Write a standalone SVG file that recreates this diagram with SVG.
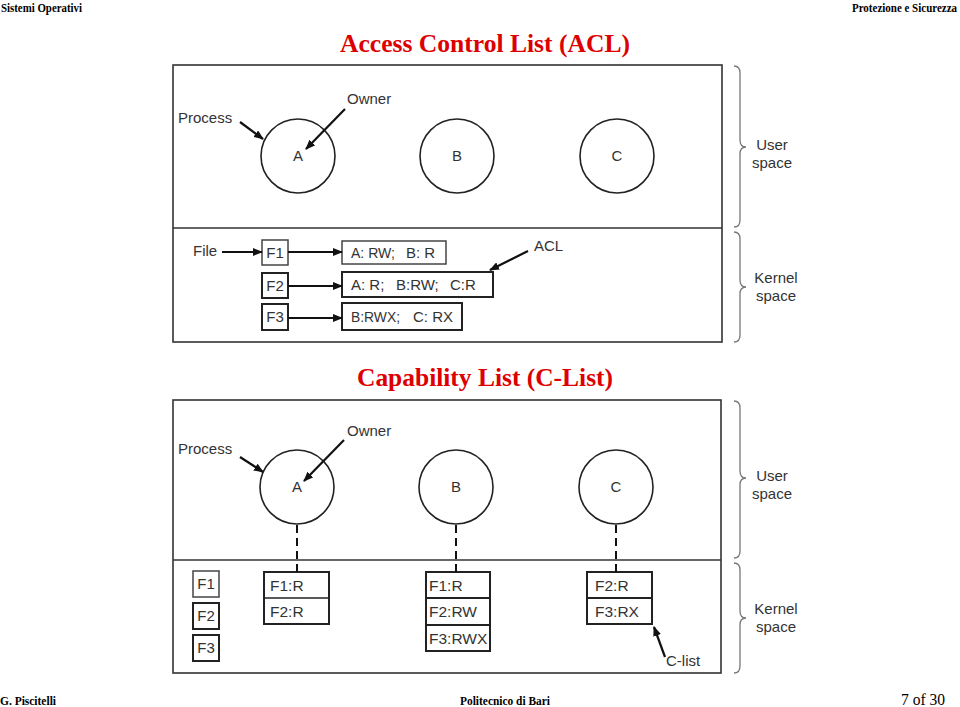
<svg xmlns="http://www.w3.org/2000/svg" width="960" height="707" viewBox="0 0 960 707">
<style>
.hdr{font-family:"Liberation Serif","Times New Roman",serif;font-weight:bold;font-size:12px;fill:#000}
.ttl{font-family:"Liberation Serif","Times New Roman",serif;font-weight:bold;font-size:26px;fill:#dd0000}
.frame{fill:none;stroke:#333;stroke-width:1.6}
.circ{fill:none;stroke:#222;stroke-width:1.6}
.lbl{font-family:"Liberation Sans",Arial,sans-serif;font-size:15px;fill:#333}
.bt{font-family:"Liberation Sans",Arial,sans-serif;font-size:15.5px;fill:#333}
.cl{font-family:"Liberation Sans",Arial,sans-serif;font-size:15px;fill:#333;text-anchor:middle}
.box{fill:#fff;stroke:#222;stroke-width:2}
.thin{fill:#fff;stroke:#444;stroke-width:1.5}
.arr{stroke:#111;stroke-width:2.2;fill:none;marker-end:url(#ah)}
.dash{stroke:#111;stroke-width:2;stroke-dasharray:8 5;fill:none}
.brace{fill:none;stroke:#777;stroke-width:1.3}
</style>
<defs>
<marker id="ah" markerWidth="10" markerHeight="8" refX="9" refY="4" orient="auto" markerUnits="userSpaceOnUse">
<path d="M0,0 L10,4 L0,8 z" fill="#111"/>
</marker>
</defs>
<rect width="960" height="707" fill="#fff"/>

<g id="header">
<text class="hdr" x="1" y="12" textLength="81" lengthAdjust="spacingAndGlyphs">Sistemi Operativi</text>
<text class="hdr" x="957" y="12" text-anchor="end" textLength="105" lengthAdjust="spacingAndGlyphs">Protezione e Sicurezza</text>
</g>
<g id="footer">
<text class="hdr" x="0" y="705" textLength="56" lengthAdjust="spacingAndGlyphs">G. Piscitelli</text>
<text class="hdr" x="460" y="705" textLength="90" lengthAdjust="spacingAndGlyphs">Politecnico di Bari</text>
<text x="945" y="705" text-anchor="end" font-family="'Liberation Serif','Times New Roman',serif" font-size="16" fill="#000" textLength="44" lengthAdjust="spacingAndGlyphs">7 of 30</text>
</g>

<!-- ACL diagram -->
<text class="ttl" x="340" y="52" textLength="290" lengthAdjust="spacingAndGlyphs">Access Control List (ACL)</text>
<g id="acl-frame">
<rect class="frame" x="173" y="65" width="549" height="277"/>
<line class="frame" x1="173" y1="228" x2="722" y2="228"/>
</g>
<g id="acl-A"><circle class="circ" cx="298" cy="156" r="37"/><text class="cl" x="298" y="161">A</text></g>
<g id="acl-B"><circle class="circ" cx="457" cy="156" r="37"/><text class="cl" x="457" y="161">B</text></g>
<g id="acl-C"><circle class="circ" cx="617" cy="156" r="37"/><text class="cl" x="617" y="161">C</text></g>
<g id="acl-labels">
<text class="lbl" x="178" y="123">Process</text>
<text class="lbl" x="347" y="104">Owner</text>
<text class="lbl" x="193" y="256">File</text>
<text class="lbl" x="534" y="251">ACL</text>
</g>
<g id="acl-F1"><rect class="thin" x="262" y="240" width="26" height="25"/><text class="cl" x="275" y="258">F1</text></g>
<g id="acl-F2"><rect class="box" x="262" y="273" width="26" height="25"/><text class="cl" x="275" y="291">F2</text></g>
<g id="acl-F3"><rect class="box" x="262" y="304" width="26" height="26"/><text class="cl" x="275" y="322">F3</text></g>
<g id="acl-list1"><rect class="thin" x="342" y="241" width="104" height="23"/><text class="lbl" y="258"><tspan x="351" textLength="44" lengthAdjust="spacingAndGlyphs">A: RW;</tspan><tspan x="406">B: R</tspan></text></g>
<g id="acl-list2"><rect class="box" x="342" y="272" width="151" height="25"/><text class="lbl" y="290"><tspan x="351">A: R;</tspan><tspan x="396">B:RW;</tspan><tspan x="450">C:R</tspan></text></g>
<g id="acl-list3"><rect class="box" x="342" y="303" width="120" height="27"/><text class="lbl" y="322"><tspan x="351" textLength="49" lengthAdjust="spacingAndGlyphs">B:RWX;</tspan><tspan x="413">C: RX</tspan></text></g>
<g id="acl-braces">
<path class="brace" d="M734,66 Q740,66 740,73 L740,140 Q740,147 746,147 Q740,147 740,154 L740,220 Q740,227 734,227"/>
<path class="brace" d="M734,232 Q740,232 740,239 L740,280 Q740,287 746,287 Q740,287 740,294 L740,335 Q740,342 734,342"/>
<text class="cl" x="772" y="150">User</text>
<text class="cl" x="772" y="168">space</text>
<text class="cl" x="776" y="283">Kernel</text>
<text class="cl" x="776" y="301">space</text>
</g>
<g id="acl-connectors">
<line class="arr" x1="240" y1="122" x2="263" y2="139"/>
<line class="arr" x1="345" y1="109" x2="306" y2="149"/>
<line class="arr" x1="222" y1="252" x2="262" y2="252"/>
<line class="arr" x1="288" y1="252" x2="342" y2="252"/>
<line class="arr" x1="288" y1="286" x2="342" y2="286"/>
<line class="arr" x1="288" y1="318" x2="342" y2="318"/>
<line class="arr" x1="528" y1="251" x2="490" y2="270"/>
</g>

<!-- C-List diagram -->
<text class="ttl" x="357" y="386" textLength="256" lengthAdjust="spacingAndGlyphs">Capability List (C-List)</text>
<g id="cl-frame">
<rect class="frame" x="173" y="400" width="548" height="273"/>
<line class="frame" x1="173" y1="560" x2="721" y2="560"/>
</g>
<g id="cl-A"><circle class="circ" cx="297" cy="487" r="37"/><text class="cl" x="297" y="492">A</text></g>
<g id="cl-B"><circle class="circ" cx="456" cy="487" r="37"/><text class="cl" x="456" y="492">B</text></g>
<g id="cl-C"><circle class="circ" cx="616" cy="487" r="37"/><text class="cl" x="616" y="492">C</text></g>
<g id="cl-labels">
<text class="lbl" x="178" y="454">Process</text>
<text class="lbl" x="347" y="436">Owner</text>
<text class="lbl" x="666" y="666">C-list</text>
</g>
<g id="cl-F1"><rect class="thin" x="193" y="571" width="26" height="26"/><text class="cl" x="206" y="589">F1</text></g>
<g id="cl-F2"><rect class="box" x="193" y="603" width="26" height="26"/><text class="cl" x="206" y="621">F2</text></g>
<g id="cl-F3"><rect class="box" x="193" y="635" width="26" height="26"/><text class="cl" x="206" y="653">F3</text></g>
<g id="clist-A">
<rect class="box" x="264" y="572" width="65" height="52"/>
<line stroke="#222" stroke-width="1.5" x1="264" y1="598" x2="329" y2="598"/>
<text class="bt" x="270" y="591">F1:R</text>
<text class="bt" x="270" y="617">F2:R</text>
</g>
<g id="clist-B">
<rect class="box" x="426" y="572" width="64" height="79"/>
<line stroke="#222" stroke-width="2" x1="426" y1="598" x2="490" y2="598"/>
<line stroke="#222" stroke-width="2" x1="426" y1="625" x2="490" y2="625"/>
<text class="bt" x="429" y="591">F1:R</text>
<text class="bt" x="429" y="617">F2:RW</text>
<text class="bt" x="429" y="644">F3:RWX</text>
</g>
<g id="clist-C">
<rect class="box" x="587" y="572" width="65" height="52"/>
<line stroke="#222" stroke-width="2" x1="587" y1="598" x2="652" y2="598"/>
<text class="bt" x="595" y="591">F2:R</text>
<text class="bt" x="595" y="617">F3:RX</text>
</g>
<g id="cl-braces">
<path class="brace" d="M734,401 Q740,401 740,408 L740,471 Q740,478 746,478 Q740,478 740,485 L740,551 Q740,558 734,558"/>
<path class="brace" d="M734,563 Q740,563 740,570 L740,611 Q740,618 746,618 Q740,618 740,625 L740,666 Q740,673 734,673"/>
<text class="cl" x="772" y="481">User</text>
<text class="cl" x="772" y="499">space</text>
<text class="cl" x="776" y="614">Kernel</text>
<text class="cl" x="776" y="632">space</text>
</g>
<g id="cl-connectors">
<line class="arr" x1="240" y1="457" x2="263" y2="472"/>
<line class="arr" x1="344" y1="440" x2="304" y2="481"/>
<line class="dash" x1="297" y1="525" x2="297" y2="572"/>
<line class="dash" x1="456" y1="525" x2="456" y2="572"/>
<line class="dash" x1="616" y1="525" x2="616" y2="572"/>
<line class="arr" x1="665" y1="657" x2="654" y2="627"/>
</g>
</svg>
